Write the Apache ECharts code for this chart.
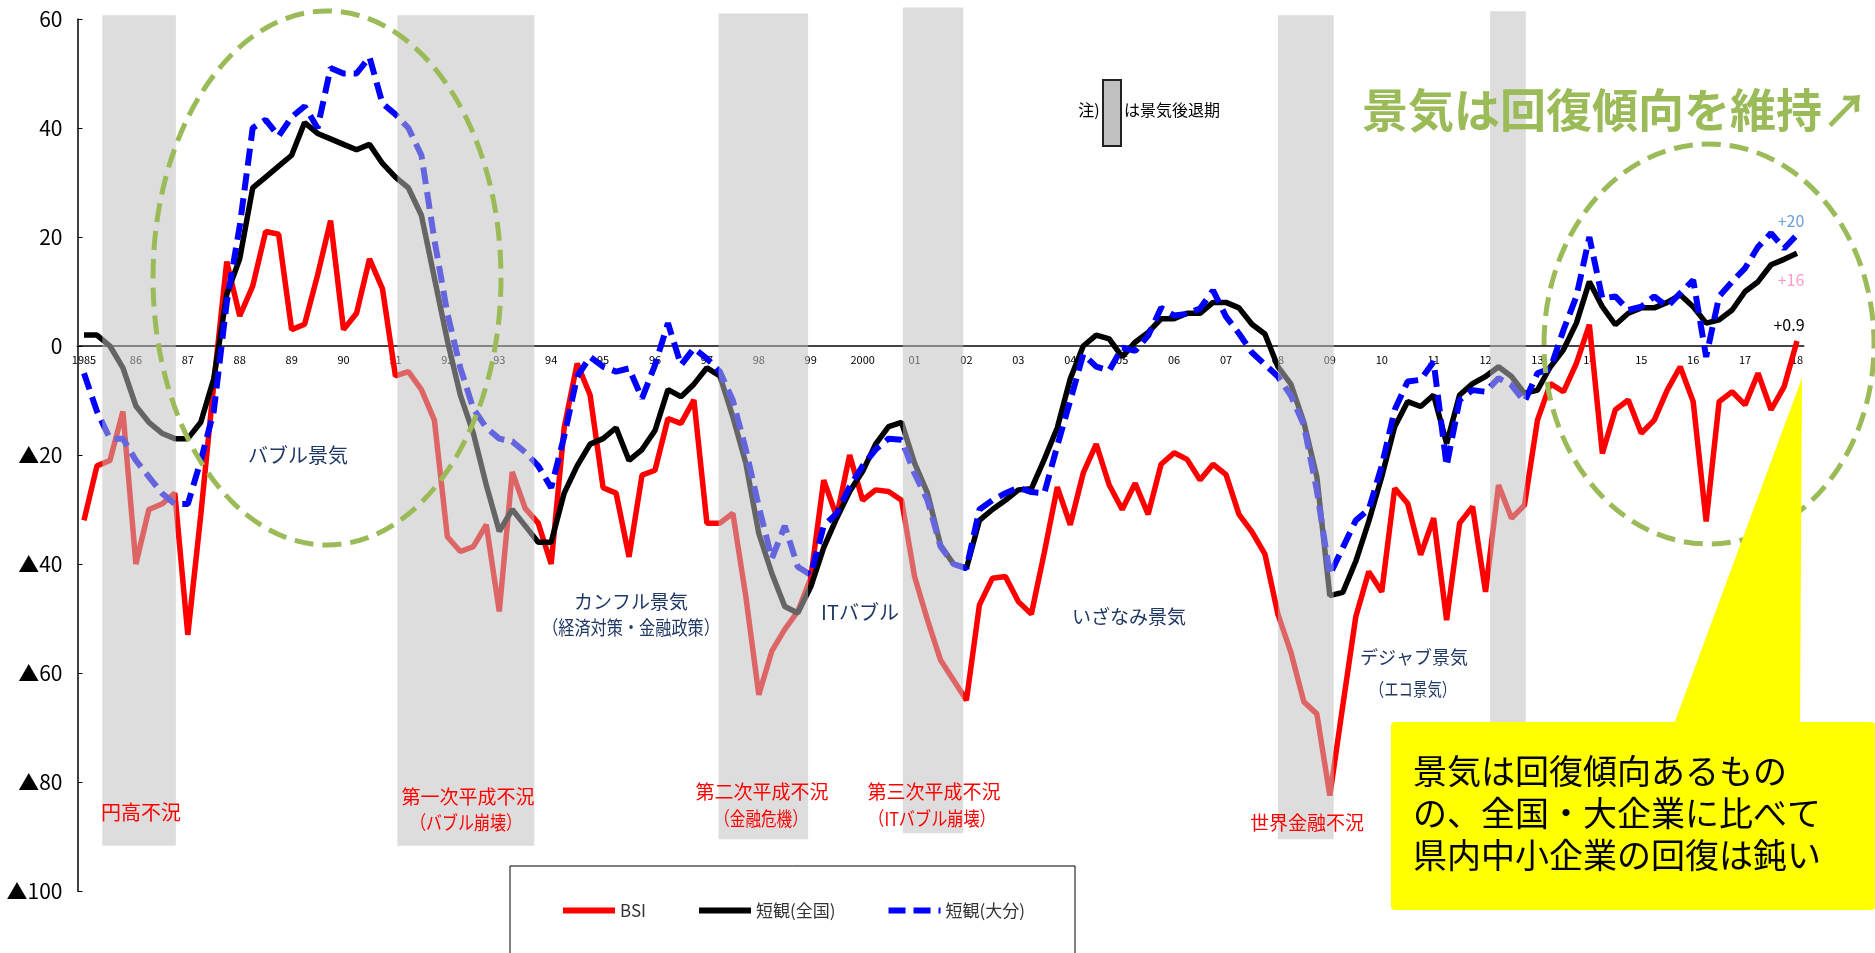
<!DOCTYPE html>
<html lang="ja">
<head>
  <meta charset="UTF-8">
  <title>BSIと短観の推移</title>
  <style>
    html, body { margin: 0; padding: 0; background: #fff; }
    #main { width: 1875px; height: 953px; }
  </style>
</head>
<body>
  <div id="main"></div>

  <script src="https://cdn.jsdelivr.net/npm/echarts@6/dist/echarts.min.js"></script>

  <script>
    // 年ラベル（四半期ごと、各年の先頭に表示）
    var yearLabels = ['1985', '86', '87', '88', '89', '90', '91', '92', '93', '94', '95', '96', '97', '98', '99',
      '2000', '01', '02', '03', '04', '05', '06', '07', '08', '09', '10', '11', '12', '13', '14', '15', '16', '17', '18']

    // BSI（県内中小企業）
    var bsi = [
      -32, -22, -21, -12, -40, -30, -29, -27, -53, -31,
      -7, 15.5, 5.5, 11, 21, 20.5, 3, 4, 13, 23,
      3, 6, 16, 10.5, -5.5, -4.7, -8, -13.6, -35, -37.7,
      -36.8, -32.8, -48.7, -23.1, -29.8, -32.5, -40, -15, -3.2, -9,
      -26, -27, -38.7, -23.7, -22.8, -13.3, -14.2, -9.9, -32.5, -32.5,
      -30.7, -46, -64, -56, -52, -48.7, -42.6, -24.6, -31.3, -20,
      -28.3, -26.4, -26.7, -28.3, -42.3, -50.3, -57.6, -61.3, -65, -47.5,
      -42.6, -42.3, -46.9, -49.2, -37.9, -25.9, -32.8, -23.3, -18, -25.5,
      -30, -25.2, -30.9, -21.7, -19.6, -20.8, -24.6, -21.7, -23.6, -30.9,
      -34.1, -38.2, -49.2, -56.2, -65.3, -67.5, -82.5, -66, -49.7, -41.4,
      -45.1, -26.1, -28.9, -38.3, -31.6, -50.3, -32.5, -29.5, -45.1, -25.5,
      -31.6, -29.2, -13.6, -6.9, -8.4, -3.2, 3.9, -19.7, -11.7, -9.9,
      -16, -13.6, -8.1, -3.8, -10.2, -32.2, -10.2, -8.4, -10.8, -5,
      -11.7, -7.5, 0.9
    ]

    // 短観（全国）
    var tankanAll = [
      2, 2, 0, -4, -11, -14, -16, -17, -17, -14,
      -6, 9.5, 16, 29, 31, 33, 35, 41, 39, 38,
      37, 36, 37, 33.5, 31, 29, 24, 12.5, 1, -9,
      -16, -25.5, -34, -30, -33, -36, -36, -27, -22, -18,
      -17, -15, -21, -19, -15.5, -8, -9.3, -7, -4, -5.5,
      -13, -21.5, -34.4, -41.7, -47.8, -49, -44.2, -37, -31.6, -26.7,
      -23, -18, -14.8, -14, -21.5, -27, -36.5, -40, -40.8, -32,
      -30, -28.3, -26.4, -26.2, -20.8, -15, -6, 0, 2, 1.3,
      -2, 0.7, 2.5, 5, 5, 6, 6, 8, 8, 7,
      4, 2.2, -3.8, -7, -14, -24, -45.8, -45.2, -39.5, -32.2,
      -24, -14.8, -10.2, -11.1, -9, -17.9, -9, -6.9, -5.6, -3.8,
      -5.6, -8.7, -8.1, -3.8, -0.7, 4.2, 11.8, 7.2, 3.9, 6,
      7, 7, 8, 9.4, 7.2, 4.2, 4.8, 6.6, 10, 11.8,
      14.9, 15.9, 17
    ]

    // 短観（大分）
    var tankanOita = [
      -5, -12, -17, -17, -21, -24, -27, -29, -29, -21,
      -12, 8, 22, 40, 41.5, 38.5, 42, 44, 40, 51,
      50, 50, 53, 44.5, 42.5, 40, 35, 19.5, 6, -4,
      -11.5, -15, -17, -17.5, -19.5, -22, -26, -16.6, -5.6, -2,
      -3.8, -4.7, -4.1, -9.6, -3.5, 4.2, -3.5, -0.4, -2.3, -4.7,
      -10, -19, -29.5, -39, -33, -40.5, -42, -33, -30.7, -25.8,
      -22, -19, -17, -17.2, -23.4, -28.3, -36.8, -40, -40.8, -30,
      -28.3, -27, -26, -26.8, -27, -18.3, -10, -1.5, -3.8, -4.5,
      -0.3, -0.9, 1.9, 7, 5.6, 5.9, 6.9, 10.2, 5.4, 2.3,
      -1.2, -3.4, -5.6, -9.1, -14.5, -26.5, -42, -37, -32, -30,
      -22, -11.7, -6.5, -6.2, -2.9, -22, -9.9, -8.1, -8.4, -5.9,
      -7.2, -10.2, -5, -4.1, 2.9, 9.1, 20, 8.7, 9.1, 6.6,
      7.2, 9.1, 7.2, 9.7, 12.1, -2, 9.1, 11.8, 14.3, 18.2,
      20.7, 17.9, 20.4
    ]

    // 景気後退期（四半期インデックス、上端・下端の値）
    var recessionStart = [1.41, 24.15, 48.9, 63.1, 92.0, 108.35]
    var recessionEnd = [7.08, 34.7, 55.8, 67.75, 96.3, 111.1]
    var recessionTop = [60.7, 60.7, 61.0, 62.1, 60.7, 61.4]
    var recessionBottom = [-91.7, -91.7, -90.5, -89.4, -90.5, -90.5]

    var quarters = []
    for (var i = 0; i < bsi.length; i++) {
      quarters.push((1985 + Math.floor(i / 4)) + 'Q' + (i % 4 + 1))
    }
    var bandData = recessionStart.map(function (s, k) {
      return [0, 0, s, recessionEnd[k], recessionTop[k], recessionBottom[k]]
    })

    var narrow = "'Liberation Sans Narrow', 'Noto Sans CJK JP', sans-serif"
    var jp = "'Noto Sans CJK JP', sans-serif"
    var navy = '#1f3864'

    function label(text, x, y, size, color, sx) {
      return {
        type: 'text', x: x, y: y, z: 100, scaleX: sx || 1,
        style: { text: text, fontSize: size, fontFamily: jp, fill: color, align: 'center', verticalAlign: 'middle' }
      }
    }

    var myChart = echarts.init(document.getElementById('main'))

    // 0の位置に横軸を置く（グリッド下端からのずれ）
    var gridTop = 19, gridBottom = 62, yMin = -100, yMax = 60
    var plotH = 953 - gridTop - gridBottom
    var zeroOffset = -plotH * (0 - yMin) / (yMax - yMin)

    var options = {
      animation: false,
      grid: { left: 77.5, right: 71.5, top: gridTop, bottom: gridBottom },
      legend: {
        data: ['BSI', '短観(全国)', '短観(大分)'],
        left: 510, top: 866,
        padding: [36, 50, 60, 50],
        itemGap: 50, itemWidth: 52, itemHeight: 14,
        borderColor: '#000', borderWidth: 1,
        itemStyle: { opacity: 0 },
        lineStyle: { width: 6 },
        textStyle: { fontFamily: narrow, fontSize: 17, color: '#333' }
      },
      xAxis: {
        type: 'category',
        data: quarters,
        boundaryGap: true,
        offset: zeroOffset,
        axisLine: { onZero: false, lineStyle: { color: '#444', width: 2 } },
        axisTick: { inside: true, length: 4, interval: 0, lineStyle: { color: '#444' } },
        axisLabel: {
          interval: 3, margin: 8, fontFamily: narrow, fontSize: 11, color: '#000',
          formatter: function (v, idx) { return yearLabels[idx / 4] }
        },
        splitLine: { show: false }
      },
      yAxis: {
        type: 'value', min: yMin, max: yMax, interval: 20,
        axisLine: { show: true, lineStyle: { color: '#000', width: 1.5 } },
        axisTick: { show: true, inside: true, length: 5, lineStyle: { color: '#000' } },
        axisLabel: {
          margin: 15, fontFamily: narrow, fontSize: 21, color: '#000',
          formatter: function (v) { return v < 0 ? '▲' + (-v) : String(v) }
        },
        splitLine: { show: false }
      },
      series: [
        {
          name: 'BSI', type: 'line', data: bsi, symbol: 'none',
          lineStyle: { color: '#ff0000', width: 5.5 }, itemStyle: { color: '#ff0000' }
        },
        {
          name: '短観(全国)', type: 'line', data: tankanAll, symbol: 'none',
          lineStyle: { color: '#000000', width: 5.5 }, itemStyle: { color: '#000000' }
        },
        {
          name: '短観(大分)', type: 'line', data: tankanOita, symbol: 'none',
          lineStyle: { color: '#0000ff', width: 6, type: [17, 8] }, itemStyle: { color: '#0000ff' }
        },
        {
          // 景気後退期（半透明のグレー帯を線の上に重ねる）
          name: '景気後退期', type: 'custom', z: 5, data: bandData, silent: true,
          renderItem: function (params, api) {
            var w = api.size([1, 0])[0]
            var x0 = api.coord([0, 0])[0]
            var yTop = api.coord([0, api.value(4)])[1]
            var yBot = api.coord([0, api.value(5)])[1]
            var xs = x0 + api.value(2) * w
            var xe = x0 + api.value(3) * w
            return {
              type: 'rect',
              shape: { x: xs, y: yTop, width: xe - xs, height: yBot - yTop },
              style: { fill: 'rgba(190,190,190,0.53)' }
            }
          }
        }
      ],
      graphic: [
        // 緑の点線の楕円
        {
          type: 'ellipse', z: 100, shape: { cx: 327, cy: 278, rx: 174, ry: 267 },
          style: { fill: 'none', stroke: '#9bbb59', lineWidth: 5, lineDash: [19, 9] }
        },
        {
          type: 'ellipse', z: 100, shape: { cx: 1709, cy: 344, rx: 165, ry: 200 },
          style: { fill: 'none', stroke: '#9bbb59', lineWidth: 5, lineDash: [19, 9] }
        },
        {
          type: 'text', x: 1615, y: 110, z: 100,
          style: { text: '景気は回復傾向を維持↗', fontSize: 46, fontWeight: 'bold', fontFamily: jp, fill: '#9bbb59', align: 'center', verticalAlign: 'middle' }
        },
        // 注）凡例
        label('注)', 1089, 110, 16, '#000'),
        {
          type: 'rect', z: 100, shape: { x: 1103, y: 80, width: 18, height: 66 },
          style: { fill: '#c0c0c0', stroke: '#222', lineWidth: 2 }
        },
        {
          type: 'text', x: 1124, y: 110, z: 100,
          style: { text: 'は景気後退期', fontSize: 16, fontFamily: jp, fill: '#000', align: 'left', verticalAlign: 'middle' }
        },
        // 景気の名称
        label('バブル景気', 298, 455, 20, navy),
        label('カンフル景気', 631, 602, 19, navy),
        label('（経済対策・金融政策）', 631, 628, 19, navy, 0.85),
        label('ITバブル', 860, 612, 20, navy),
        label('いざなみ景気', 1129, 617, 19, navy),
        label('デジャブ景気', 1414, 657, 18, navy),
        label('（エコ景気）', 1413, 689, 18, navy, 0.8),
        label('円高不況', 141, 812, 20, '#ff0000'),
        label('第一次平成不況', 468, 797, 19, '#ff0000'),
        label('（バブル崩壊）', 466, 823, 19, '#ff0000', 0.84),
        label('第二次平成不況', 762, 792, 19, '#ff0000'),
        label('（金融危機）', 761, 819, 19, '#ff0000', 0.82),
        label('第三次平成不況', 934, 792, 19, '#ff0000'),
        label('（ITバブル崩壊）', 932, 819, 19, '#ff0000', 0.85),
        label('世界金融不況', 1307, 823, 19, '#ff0000'),
        // 直近値
        {
          type: 'text', x: 1791, y: 221, z: 100,
          style: { text: '+20', fontSize: 16, fontFamily: narrow, fill: '#6f9fdc', align: 'center', verticalAlign: 'middle' }
        },
        {
          type: 'text', x: 1791, y: 280, z: 100,
          style: { text: '+16', fontSize: 16, fontFamily: narrow, fill: '#ff99cc', align: 'center', verticalAlign: 'middle' }
        },
        {
          type: 'text', x: 1789, y: 325, z: 100,
          style: { text: '+0.9', fontSize: 16, fontFamily: narrow, fill: '#000', align: 'center', verticalAlign: 'middle' }
        },
        // 黄色の吹き出し
        {
          type: 'polygon', z: 100, shape: { points: [[1674, 724], [1802, 378], [1800, 724]] },
          style: { fill: '#ffff00' }
        },
        {
          type: 'rect', z: 100, shape: { x: 1391, y: 722, width: 484, height: 188, r: 4 },
          style: { fill: '#ffff00' }
        },
        {
          type: 'text', x: 1413, y: 771, z: 101,
          style: { text: '景気は回復傾向あるもの', fontSize: 34, fontFamily: jp, fill: '#000', align: 'left', verticalAlign: 'middle' }
        },
        {
          type: 'text', x: 1413, y: 813, z: 101,
          style: { text: 'の、全国・大企業に比べて', fontSize: 34, fontFamily: jp, fill: '#000', align: 'left', verticalAlign: 'middle' }
        },
        {
          type: 'text', x: 1413, y: 855, z: 101,
          style: { text: '県内中小企業の回復は鈍い', fontSize: 34, fontFamily: jp, fill: '#000', align: 'left', verticalAlign: 'middle' }
        }
      ]
    }

    myChart.setOption(options)

    window.onresize = function () {
      myChart.resize()
    }
  </script>
</body>
</html>
